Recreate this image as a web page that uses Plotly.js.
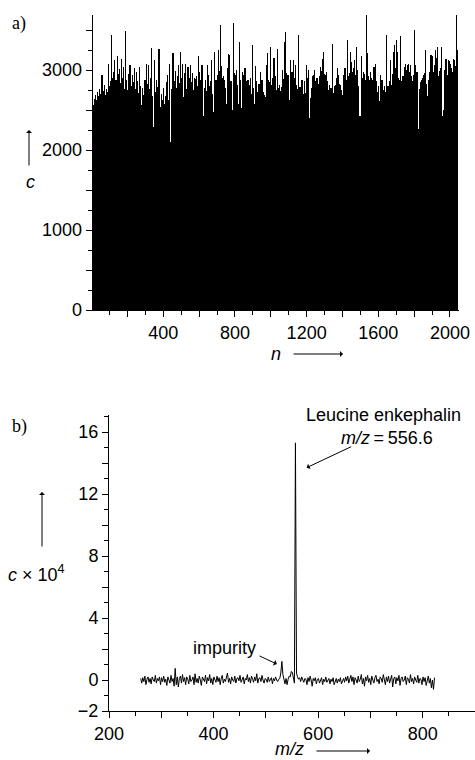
<!DOCTYPE html>
<html>
<head>
<meta charset="utf-8">
<script src="https://cdn.plot.ly/plotly-3.0.1.min.js"></script>
<style>html,body{margin:0;padding:0;background:#fff;}#chart{width:475px;height:760px;}</style>
</head>
<body>
<div id="chart"></div>
<script>
// ---- Panel a): counts per channel n (channel start 4, step 6) ----
var channelStart = 4;
var channelStep = 6;
var countsA = [
2600,2560,2640,2690,2620,2730,2680,2760,2700,2940,2740,2810,2690,2760,2720,3080,2800,2860,3440,2900,
2980,3120,2870,3170,2950,3010,2840,3140,2900,3040,2760,3490,2870,2750,2950,3060,2800,2940,2850,3020,
2760,2980,2860,2710,3040,2800,2560,2780,2690,2870,3080,2820,3060,2760,2900,3270,2680,2290,3120,2720,
2880,2790,3260,2540,2700,2620,2770,2580,2680,2850,2940,2620,3080,2100,2760,3210,2860,2990,2780,2920,
3060,2840,3220,2900,3080,2660,2960,
3080,2760,3040,2900,3060,2850,2960,2750,2900,2890,2920,2800,3170,2980,2880,3060,2420,2780,2880,2740,
3060,2940,2800,2860,3130,2700,2480,3220,2880,2940,3250,2990,3560,3050,2900,2920,2870,2780,2580,3030,
3200,3190,2860,2500,3590,2960,2940,3000,2810,2580,3350,2880,2520,2980,2940,3020,2860,2880,2870,2810,
2900,2700,3310,2780,2580,3050,2860,2720,2830,2980,2880,2870,2730,2690,2660,3060,3210,2870,2850,3290,
2810,2900,3150,2920,2750,3260,
2780,2810,2740,2790,3000,2890,3350,3480,2960,2940,2620,3120,2980,2980,3120,2900,3060,2810,2760,3440,
2790,2790,2870,2700,2860,2710,3060,2900,3000,2400,2650,2770,2920,2940,3000,2860,2900,2830,2920,3040,
2990,3140,3230,2950,2940,2980,2860,2750,2810,2780,3330,2710,2800,2810,2900,3020,2940,2820,2810,2750,
2690,2940,3020,2880,3380,2920,2960,3220,3100,2970,3020,3120,2940,3290,3000,2800,2420,3170,2900,2980,
2950,2880,3690,3210,2920,2870,
2980,2900,2870,3040,3080,2860,2730,2800,2610,2940,2880,2870,2750,2800,2730,3440,2800,2860,3130,2810,
2950,3230,3310,3020,3380,3230,2900,2870,3420,2860,2920,3040,3080,3000,3060,3080,2970,3060,2920,2860,
2940,3500,3060,2970,2260,2760,2850,2880,2900,2940,2960,3250,2820,2680,2870,2980,3190,3170,2970,3060,
3250,3150,3290,2920,2990,3020,3290,2420,2500,3000,3140,2940,3120,3110,3080,3020,2980,3140,3120,3050,
3690,3250
];
var channels = countsA.map(function(v, i){ return channelStart + channelStep * i; });
var xTickValsA = [200,400,600,800,1000,1200,1400,1600,1800,2000];
var xTickTextA = ['','400','','800','','1200','','1600','','2000'];
var yTickValsA = [0,500,1000,1500,2000,2500,3000,3500];
var yTickTextA = ['0','','1000','','2000','','3000',''];

// ---- Panel b): mass spectrum, m/z from 260.6 in steps of 2, intensity in units of 10^4 ----
var mzStart = 260.6;
var mzStep = 2;
var intensityB = [
0.1,-0.2,0.15,-0.1,0.25,-0.3,0.05,0.2,-0.15,0.1,
-0.25,0.2,0.0,-0.1,0.3,-0.2,0.1,-0.05,0.2,-0.3,
0.15,-0.1,0.25,-0.15,0.05,-0.35,0.2,0.0,-0.2,0.3,
-0.1,0.1,-0.4,0.75,-0.3,0.2,-0.45,0.1,0.25,-0.2,
0.35,-0.1,0.15,-0.3,0.2,0.05,-0.25,0.3,-0.1,0.0,
0.2,-0.3,0.4,-0.15,0.1,-0.2,0.25,0.0,-0.35,0.2,
0.05,-0.1,0.3,-0.25,0.15,-0.05,0.35,-0.2,0.1,-0.3,
0.2,0.0,-0.15,0.25,-0.1,0.15,-0.3,0.1,0.3,-0.2,
0.05,-0.1,0.2,0.45,-0.15,0.1,-0.25,0.2,0.0,-0.1,
0.25,-0.2,0.1,0.15,-0.05,0.3,-0.15,0.05,0.2,-0.25,
0.1,0.0,0.35,-0.1,0.15,-0.2,0.25,0.05,-0.15,0.2,
-0.05,0.4,-0.2,0.1,0.15,-0.1,0.3,0.0,-0.2,0.1,
0.05,-0.15,0.2,-0.1,0.0,0.15,-0.25,0.1,-0.05,0.2,
0.0,-0.1,0.05,0.1,0.45,1.2,0.35,-0.05,-0.25,0.1,
-0.3,0.05,0.25,0.2,0.55,0.5,0.15,-0.2,15.3,0.45,
0.2,0.05,0.15,-0.1,0.2,0.0,-0.15,0.1,0.05,-0.3,
0.15,-0.1,0.25,0.0,-0.4,0.1,-0.05,0.15,-0.25,0.05,
0.1,-0.2,0.0,0.15,-0.3,0.05,-0.1,0.2,-0.15,0.0,
0.1,-0.25,0.05,-0.1,0.15,-0.3,0.0,0.1,-0.2,0.05,
-0.1,0.15,-0.25,0.0,0.1,-0.15,0.2,-0.05,0.25,-0.2,
0.1,0.3,-0.1,0.2,-0.3,0.15,0.0,-0.2,0.25,-0.1,
0.05,0.35,-0.25,0.1,-0.4,0.2,-0.05,0.3,-0.15,0.1,
-0.3,0.25,0.0,-0.2,0.15,0.3,-0.1,0.05,-0.25,0.2,
0.1,-0.15,0.35,0.0,-0.3,0.2,-0.1,0.25,-0.2,0.05,
0.3,-0.45,0.1,0.2,-0.25,0.15,-0.05,0.3,-0.35,0.1,
0.2,-0.1,0.0,0.25,-0.3,0.15,0.05,-0.2,0.35,-0.1,
0.1,-0.25,0.2,0.0,-0.15,0.3,-0.2,0.1,0.05,-0.3,
0.2,-0.1,0.15,-0.35,0.05,0.25,-0.2,0.1,-0.5,0.0,
-0.6,0.15
];
var mz = intensityB.map(function(v, i){ return +(mzStart + mzStep * i).toFixed(1); });
var xTickValsB = [200,300,400,500,600,700,800,900];
var xTickTextB = ['200','','400','','600','','800',''];
var yTickValsB = [-2,0,2,4,6,8,10,12,14,16];
var yTickTextB = ['\u22122','0','','4','','8','','12','','16'];

var W = 475, H = 760;
function px(x){ return x / W; }
function py(y){ return 1 - y / H; }

var sans = 'Liberation Sans, Arial, Helvetica, sans-serif';
var serif = 'Liberation Serif, Times New Roman, serif';
var tickFont = {family: sans, size: 18, color: '#000'};

var traces = [
  {type: 'bar', x: channels, y: countsA, width: channelStep, marker: {color: '#000', line: {width: 0}},
   xaxis: 'x', yaxis: 'y', hoverinfo: 'skip'},
  {type: 'scatter', mode: 'lines', x: mz, y: intensityB, line: {color: '#000', width: 1},
   xaxis: 'x2', yaxis: 'y2', hoverinfo: 'skip'}
];

var axisCommon = {showgrid: false, zeroline: false, showline: true, linecolor: '#000', linewidth: 1,
  ticks: 'outside', tickcolor: '#000', tickwidth: 1, ticklen: 6, tickfont: tickFont, fixedrange: true};

var layout = {
  width: W, height: H,
  margin: {l: 0, r: 0, t: 0, b: 0},
  paper_bgcolor: '#fff', plot_bgcolor: 'rgba(0,0,0,0)',
  showlegend: false,
  bargap: 0,
  xaxis: Object.assign({}, axisCommon, {
    domain: [px(92.7), px(459.3)], range: [6, 2052], anchor: 'y',
    tickmode: 'array', tickvals: xTickValsA, ticktext: xTickTextA,
    minor: {dtick: 100, tick0: 0, ticks: 'outside', ticklen: 4, tickcolor: '#000'}
  }),
  yaxis: Object.assign({}, axisCommon, {
    domain: [py(310), py(15)], range: [0, 3688], anchor: 'x',
    tickmode: 'array', tickvals: yTickValsA, ticktext: yTickTextA,
    minor: {dtick: 250, tick0: 0, ticks: 'outside', ticklen: 4, tickcolor: '#000'}
  }),
  xaxis2: Object.assign({}, axisCommon, {
    domain: [px(109), 1], range: [200, 900], anchor: 'y2',
    tickmode: 'array', tickvals: xTickValsB, ticktext: xTickTextB,
    minor: {dtick: 50, tick0: 0, ticks: 'outside', ticklen: 4, tickcolor: '#000'}
  }),
  yaxis2: Object.assign({}, axisCommon, {
    domain: [py(711), py(415)], range: [-2, 17.1], anchor: 'x2',
    tickmode: 'array', tickvals: yTickValsB, ticktext: yTickTextB,
    minor: {dtick: 1, tick0: 0, ticks: 'outside', ticklen: 4, tickcolor: '#000'}
  }),
  annotations: [
    {text: 'a)', xref: 'paper', yref: 'paper', x: px(19), y: py(24), showarrow: false,
     font: {family: serif, size: 18, color: '#000'}, xanchor: 'center', yanchor: 'middle'},
    {text: 'b)', xref: 'paper', yref: 'paper', x: px(19), y: py(426), showarrow: false,
     font: {family: serif, size: 18, color: '#000'}, xanchor: 'center', yanchor: 'middle'},
    // panel a) axis labels with arrows
    {text: '<i>c</i>', xref: 'paper', yref: 'paper', x: px(30), y: py(182), showarrow: false,
     font: {family: sans, size: 18, color: '#000'}, xanchor: 'center', yanchor: 'middle'},
    {text: '', xref: 'paper', yref: 'paper', x: px(29), y: py(130), showarrow: true,
     ax: 0, ay: 37, arrowhead: 1, arrowsize: 1, arrowwidth: 1, arrowcolor: '#000'},
    {text: '<i>n</i>', xref: 'paper', yref: 'paper', x: px(276), y: py(354), showarrow: false,
     font: {family: sans, size: 18, color: '#000'}, xanchor: 'center', yanchor: 'middle'},
    {text: '', xref: 'paper', yref: 'paper', x: px(343), y: py(354), showarrow: true,
     ax: -51, ay: 0, arrowhead: 1, arrowsize: 1, arrowwidth: 1, arrowcolor: '#000'},
    // panel b) axis labels
    {text: '<i>c</i> \u00d7 10<sup>4</sup>', xref: 'paper', yref: 'paper', x: px(36), y: py(573), showarrow: false,
     font: {family: sans, size: 18, color: '#000'}, xanchor: 'center', yanchor: 'middle'},
    {text: '', xref: 'paper', yref: 'paper', x: px(42), y: py(492), showarrow: true,
     ax: 0, ay: 56, arrowhead: 1, arrowsize: 1, arrowwidth: 1, arrowcolor: '#000'},
    {text: '<i>m/z</i>', xref: 'paper', yref: 'paper', x: px(289), y: py(749), showarrow: false,
     font: {family: sans, size: 18, color: '#000'}, xanchor: 'center', yanchor: 'middle'},
    {text: '', xref: 'paper', yref: 'paper', x: px(370), y: py(751), showarrow: true,
     ax: -55, ay: 0, arrowhead: 1, arrowsize: 1, arrowwidth: 1, arrowcolor: '#000'},
    // peak labels
    {text: 'Leucine enkephalin', xref: 'paper', yref: 'paper', x: px(383), y: py(415), showarrow: false,
     font: {family: sans, size: 18, color: '#000'}, xanchor: 'center', yanchor: 'middle'},
    {text: '<i>m/z</i>\u2009=\u2009556.6', xref: 'paper', yref: 'paper', x: px(387), y: py(438), showarrow: false,
     font: {family: sans, size: 18, color: '#000'}, xanchor: 'center', yanchor: 'middle'},
    {text: '', xref: 'x2', yref: 'y2', x: 578, y: 13.7, axref: 'x2', ayref: 'y2', ax: 666, ay: 15.1,
     showarrow: true, arrowhead: 1, arrowsize: 1, arrowwidth: 1, arrowcolor: '#000'},
    {text: 'impurity', xref: 'x2', yref: 'y2', x: 420, y: 2.06, showarrow: false,
     font: {family: sans, size: 18, color: '#000'}, xanchor: 'center', yanchor: 'middle'},
    {text: '', xref: 'x2', yref: 'y2', x: 521, y: 1.03, axref: 'x2', ayref: 'y2', ax: 485, ay: 1.6,
     showarrow: true, arrowhead: 1, arrowsize: 1, arrowwidth: 1, arrowcolor: '#000'}
  ]
};

Plotly.newPlot('chart', traces, layout, {displayModeBar: false, staticPlot: true});
</script>
</body>
</html>
